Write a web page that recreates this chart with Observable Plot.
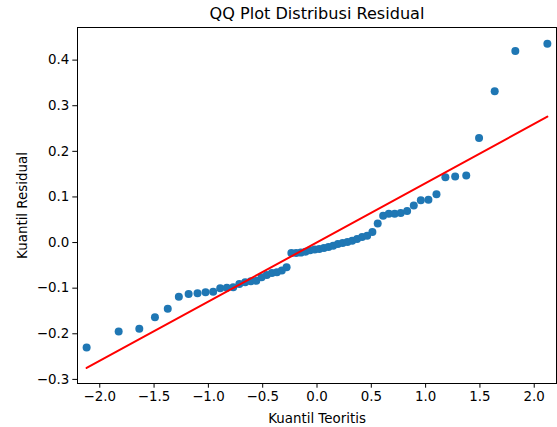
<!DOCTYPE html>
<html><head><meta charset="utf-8">
<script src="https://cdn.jsdelivr.net/npm/d3@7"></script>
<script src="https://cdn.jsdelivr.net/npm/@observablehq/plot@0.6"></script>
<style>html,body{margin:0;padding:0;background:#fff}</style>
</head><body><div id="chart"></div>
<script>
const theoretical = [-2.121,-1.826,-1.636,-1.492,-1.374,-1.272,-1.182,-1.100,-1.026,-0.956,-0.891,-0.830,-0.771,-0.715,-0.661,-0.609,-0.559,-0.510,-0.462,-0.415,-0.369,-0.324,-0.280,-0.236,-0.192,-0.149,-0.106,-0.064,-0.021,
  0.021,0.064,0.106,0.149,0.192,0.236,0.280,0.324,0.369,0.415,0.462,0.510,0.559,0.609,0.661,0.715,0.771,0.830,0.891,0.956,1.026,1.100,1.182,1.272,1.374,1.492,1.636,1.826,2.121];
const residual = [-0.230,-0.195,-0.189,-0.164,-0.145,-0.119,-0.113,-0.111,-0.109,-0.108,-0.100,-0.099,-0.098,-0.091,-0.087,-0.085,-0.084,-0.076,-0.071,-0.067,-0.065,-0.061,-0.054,-0.023,-0.023,-0.022,-0.020,-0.017,-0.015,
  -0.014,-0.012,-0.010,-0.007,-0.003,-0.001,0.001,0.004,0.008,0.012,0.015,0.023,0.042,0.059,0.063,0.063,0.065,0.069,0.081,0.093,0.094,0.106,0.143,0.145,0.147,0.229,0.332,0.420,0.436];
const lineX = [-2.121, 2.121];
const lineY = [-0.275, 0.276];
const xTicks = [-2.0,-1.5,-1.0,-0.5,0.0,0.5,1.0,1.5,2.0];
const yTicks = [-0.3,-0.2,-0.1,0.0,0.1,0.2,0.3,0.4];
const titleText = "QQ Plot Distribusi Residual";
const xLabel = "Kuantil Teoritis";
const yLabel = "Kuantil Residual";

const points = theoretical.map((x, i) => ({x, y: residual[i]}));
const line = lineX.map((x, i) => ({x, y: lineY[i]}));
const fmt = d3.format(".1f");

const chart = Plot.plot({
  width: 557, height: 427,
  marginLeft: 77, marginRight: 1, marginTop: 27, marginBottom: 44,
  style: {fontFamily: "'DejaVu Sans', sans-serif", fontSize: "13.4px", color: "#000", background: "#fff", overflow: "visible"},
  x: {domain: [-2.205, 2.205], ticks: xTicks, tickFormat: fmt, tickSize: 4.7, tickPadding: 3.5, label: null},
  y: {domain: [-0.309, 0.4715], ticks: yTicks, tickFormat: fmt, tickSize: 4.7, tickPadding: 3.5, label: null},
  marks: [
    Plot.dot(points, {x: "x", y: "y", r: 4, fill: "#1f77b4", stroke: "none"}),
    Plot.line(line, {x: "x", y: "y", stroke: "red", strokeWidth: 2}),
    Plot.frame({stroke: "#000", strokeWidth: 1}),
    Plot.text([titleText], {frameAnchor: "top", dy: -14, textAnchor: "middle", lineAnchor: "middle", fontSize: 16.1, fill: "#000"}),
    Plot.text([xLabel], {frameAnchor: "bottom", dy: 35, textAnchor: "middle", lineAnchor: "middle", fontSize: 13.4, fill: "#000"}),
    Plot.text([yLabel], {frameAnchor: "left", dx: -55, rotate: -90, textAnchor: "middle", lineAnchor: "middle", fontSize: 13.4, fill: "#000"})
  ]
});
document.getElementById("chart").appendChild(chart);
</script>
</body></html>
